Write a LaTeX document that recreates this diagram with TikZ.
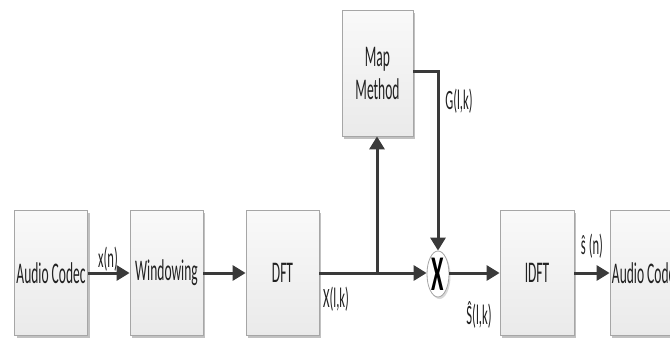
\documentclass[tikz,border=0pt]{standalone}
\usepackage{fontspec}
\newfontfamily\calf[FakeStretch=0.45]{Carlito}
\usetikzlibrary{arrows.meta,shadows,shapes.geometric}
\definecolor{boxedge}{HTML}{A6A6A6}
\definecolor{boxtop}{HTML}{F9F9F9}
\definecolor{boxbot}{HTML}{EAEAEA}
\definecolor{txt}{HTML}{222222}
\definecolor{lin}{HTML}{3A3A3A}
\tikzset{
 blk/.style={draw=boxedge, line width=0.8pt, top color=boxtop, bottom color=boxbot,
   minimum width=73pt, minimum height=125pt, inner sep=0pt,
   drop shadow={shadow xshift=2pt, shadow yshift=-2.5pt, fill=black!40, opacity=0.6},
   font=\calf\fontsize{30}{33}\selectfont, text=txt, align=center},
 sig/.style={line width=3pt, draw=lin, -{Triangle[length=13pt,width=15pt]}},
 wire/.style={line width=3pt, draw=lin},
 lbl/.style={font=\calf\fontsize{28}{30}\selectfont, text=txt, inner sep=0pt},
}
\begin{document}
\begin{tikzpicture}[x=1pt,y=-1pt]
\useasboundingbox (0,0) rectangle (670,343);
\clip (0,0) rectangle (670,343);
\fill[white] (0,0) rectangle (670,343);
\node[blk] (ac1) at (51,273) {Audio Codec};
\node[blk] (win) at (166.5,273) {Windowing};
\node[blk] (dft) at (282.5,273) {DFT};
\node[blk, minimum width=71pt, minimum height=126pt] (map) at (377.5,73) {Map\\Method};
\node[ellipse, draw=boxedge, line width=0.8pt, fill=white, minimum width=22pt, minimum height=46pt, inner sep=0pt,
  drop shadow={shadow xshift=1.5pt, shadow yshift=-2pt, fill=black!30, opacity=0.5},
  font=\calf\bfseries\fontsize{50}{50}\selectfont, text=black] (mul) at (438,274) {X};
\node[blk, minimum width=74pt] (idft) at (537,273) {IDFT};
\node[blk] (ac2) at (646.5,273) {Audio Codec};
\coordinate (jn) at (377,273);

\draw[sig] (ac1.east) -- (win.west);
\draw[sig] (win.east) -- (dft.west);
\draw[wire] (dft.east) -- (jn);
\draw[sig] (jn) -- (mul.west |- jn);
\draw[sig] (jn) -- (map.south -| jn);
\draw[sig] (map.east |- 0,71) -| (mul.north);
\draw[sig] (mul.east |- jn) -- (idft.west);
\draw[sig] (idft.east) -- (ac2.west);

\node[lbl] (lx) at (108,259) {x(n)};
\node[lbl] (lX) at (336,299) {X(l,k)};
\node[lbl] (lG) at (459,101) {G(l,k)};
\node[lbl] (lS) at (479,315) {Ŝ(l,k)};
\node[lbl] (ls) at (592,246) {ŝ (n)};
\end{tikzpicture}
\end{document}
